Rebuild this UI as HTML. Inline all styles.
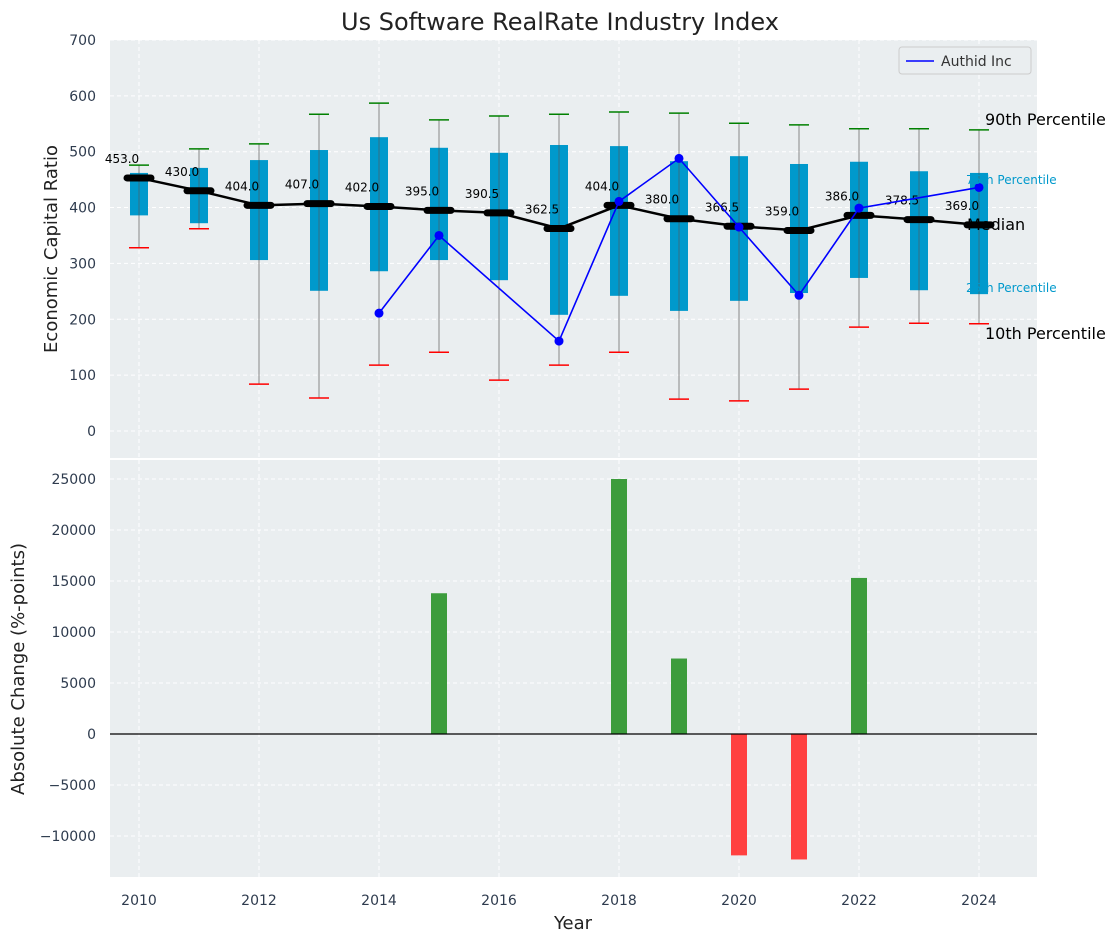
<!DOCTYPE html>
<html><head><meta charset="utf-8"><style>
body{margin:0;background:#fff;font-family:"Liberation Sans","DejaVu Sans",sans-serif}
svg text{font-family:"DejaVu Sans","Liberation Sans",sans-serif}
</style></head><body>
<svg id="c" width="1120" height="942" xmlns="http://www.w3.org/2000/svg"></svg>
<script>
const years=[2010,2011,2012,2013,2014,2015,2016,2017,2018,2019,2020,2021,2022,2023,2024];
const q1=[386,372,306,251,286,306,270,208,242,215,233,247,274,252,245];
const q3=[462,471,485,503,526,507,498,512,510,483,492,478,482,465,462];
const p10=[328,362,84,59,118,141,91,118,141,57,54,75,186,193,192];
const p90=[476,505,514,567,587,557,564,567,571,569,551,548,541,541,539];
const med=[453,430,404,407,402,395,390.5,362.5,404,380,366.5,359,386,378.5,369];
const authYears=[2014,2015,2017,2018,2019,2020,2021,2022,2024];
const authVals=[211,350,161,411,488,365,243,399,436];
const chgYears=[2015,2018,2019,2020,2021,2022];
const chgVals=[13800,25000,7400,-11900,-12300,15300];
const yTicks=[0,100,200,300,400,500,600,700];
const cTicks=[-10000,-5000,0,5000,10000,15000,20000,25000];
const xTicks=[2010,2012,2014,2016,2018,2020,2022,2024];

const NS="http://www.w3.org/2000/svg",svg=document.getElementById('c');
function el(t,a,p){const e=document.createElementNS(NS,t);for(const k in a)e.setAttribute(k,a[k]);(p||svg).appendChild(e);return e;}
const X=v=>139+(v-2010)*60;
const Y=v=>431-v*0.5586;
const C=v=>734-v*0.0102;
const L=110,R=1037,TC='#2e3b4e';
let e=el('rect',{x:L,y:40,width:R-L,height:418,fill:'#eaeef0'});

e=el('rect',{x:L,y:460,width:R-L,height:417,fill:'#eaeef0'});

xTicks.forEach(t=>{
 el('line',{x1:X(t),x2:X(t),y1:40,y2:458,stroke:'#fff','stroke-dasharray':'4,3','stroke-width':1});
 el('line',{x1:X(t),x2:X(t),y1:460,y2:877,stroke:'#fff','stroke-dasharray':'4,3','stroke-width':1});
 e=el('text',{x:X(t),y:905,'text-anchor':'middle','font-size':14,fill:TC});e.textContent=t;
 
});
yTicks.forEach(t=>{
 el('line',{x1:L,x2:R,y1:Y(t),y2:Y(t),stroke:'#fff','stroke-dasharray':'4,3'});
 e=el('text',{x:96,y:Y(t)+5,'text-anchor':'end','font-size':14,fill:TC});e.textContent=t;
 
});
cTicks.forEach(t=>{
 el('line',{x1:L,x2:R,y1:C(t),y2:C(t),stroke:'#fff','stroke-dasharray':'4,3'});
 e=el('text',{x:96,y:C(t)+5,'text-anchor':'end','font-size':14,fill:TC});e.textContent=t==0?'0':(t<0?'−'+(-t):t);
 
});
years.forEach((yr,i)=>{
 const x=X(yr);
 e=el('line',{x1:x,x2:x,y1:Y(p10[i]),y2:Y(p90[i]),stroke:'#888','stroke-width':1});
 
 e=el('rect',{x:x-9,y:Y(q3[i]),width:18,height:Y(q1[i])-Y(q3[i]),fill:'#0099cc'});
 
 el('line',{x1:x,x2:x,y1:Y(q3[i]),y2:Y(q1[i]),stroke:'#555','stroke-width':1,opacity:0.6});
 e=el('line',{x1:x-10,x2:x+10,y1:Y(p90[i]),y2:Y(p90[i]),stroke:'green','stroke-width':1.5});
 
 e=el('line',{x1:x-10,x2:x+10,y1:Y(p10[i]),y2:Y(p10[i]),stroke:'red','stroke-width':1.5});
 
});
e=el('polyline',{points:years.map((y,i)=>X(y)+','+Y(med[i])).join(' '),fill:'none',stroke:'#000','stroke-width':2.5});

years.forEach((yr,i)=>{
 e=el('line',{x1:X(yr)-12,x2:X(yr)+12,y1:Y(med[i]),y2:Y(med[i]),stroke:'#000','stroke-width':7,'stroke-linecap':'round'});
 
 e=el('text',{x:X(yr)-17,y:Y(med[i])-15,'text-anchor':'middle','font-size':12,fill:'#000'});e.textContent=med[i].toFixed(1);
 
});
e=el('polyline',{points:authYears.map((y,i)=>X(y)+','+Y(authVals[i])).join(' '),fill:'none',stroke:'blue','stroke-width':1.6});

authYears.forEach((y,i)=>{
 e=el('circle',{cx:X(y),cy:Y(authVals[i]),r:4.5,fill:'blue'});
 
});
[['90th Percentile',985,125,16,'#000'],['75th Percentile',966,184,12,'#0099cc'],['Median',967,230,16,'#000'],['25th Percentile',966,292,12,'#0099cc'],['10th Percentile',985,339,16,'#000']].forEach(a=>{
 e=el('text',{x:a[1],y:a[2],'font-size':a[3],fill:a[4]});e.textContent=a[0];
 
});
const lg=el('g',{});
el('rect',{x:899,y:47,width:132,height:27,fill:'#eaeef0',stroke:'#ccc',rx:3},lg);
el('line',{x1:906,x2:934,y1:61,y2:61,stroke:'blue','stroke-width':1.6},lg);
e=el('text',{x:941,y:66,'font-size':14,fill:'#333'},lg);e.textContent='Authid Inc';

chgYears.forEach((y,i)=>{
 const v=chgVals[i];
 e=el('rect',{x:X(y)-8,y:Math.min(C(v),C(0)),width:16,height:Math.abs(C(v)-C(0)),fill:v>=0?'#3c9c3c':'#ff4040'});
 
});
e=el('line',{x1:L,x2:R,y1:C(0),y2:C(0),stroke:'#000','stroke-width':1.2});

e=el('text',{x:560,y:30,'text-anchor':'middle','font-size':24,fill:'#222'});e.textContent='Us Software RealRate Industry Index';

e=el('text',{x:573,y:929,'text-anchor':'middle','font-size':18,fill:'#222'});e.textContent='Year';

e=el('text',{x:0,y:0,'text-anchor':'middle','font-size':18,fill:'#222',transform:'translate(57,249) rotate(-90)'});e.textContent='Economic Capital Ratio';

e=el('text',{x:0,y:0,'text-anchor':'middle','font-size':18,fill:'#222',transform:'translate(24,669) rotate(-90)'});e.textContent='Absolute Change (%-points)';

</script>
</body></html>
